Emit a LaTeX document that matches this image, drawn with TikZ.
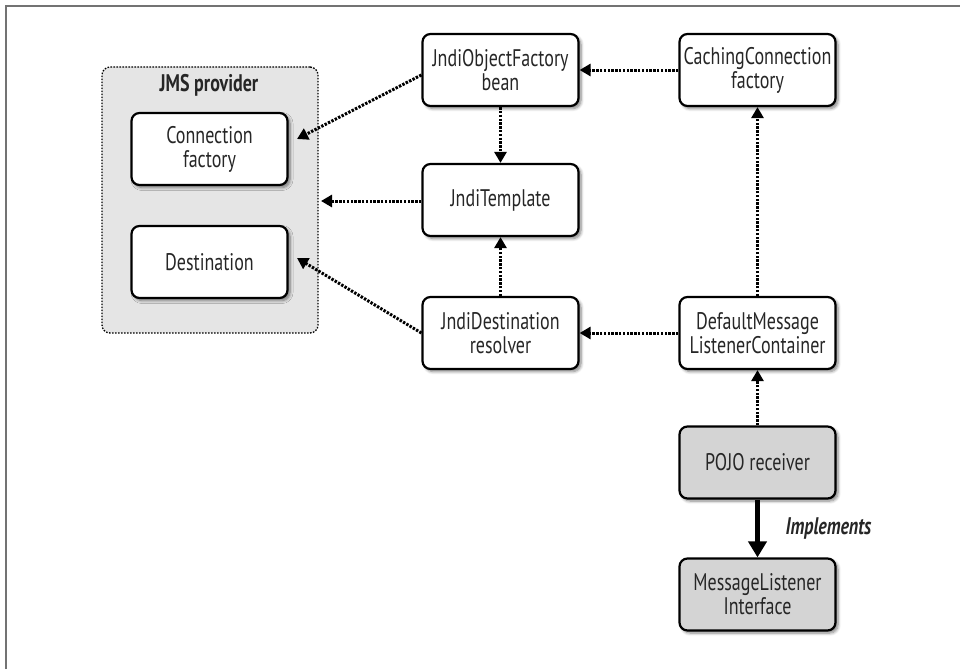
\documentclass[tikz,border=0pt]{standalone}
\usepackage{fontspec}
\setmainfont{PT Sans}[FakeStretch=0.75]
\usetikzlibrary{arrows.meta,shadows.blur,calc}
\begin{document}
\begin{tikzpicture}[x=1pt,y=-1pt,
  box/.style={draw=black, line width=2.2pt, rounded corners=8pt, fill=white,
    minimum width=156pt, minimum height=72pt, align=center, inner sep=0pt,
    font=\fontsize{24}{24}\selectfont, text=black!85,
    blur shadow={shadow xshift=2.5pt, shadow yshift=-2.5pt, shadow blur radius=3pt, shadow blur steps=6, shadow opacity=50}},
  graybox/.style={box, fill=black!17},
  dep/.style={line width=3pt, dash pattern=on 2.4pt off 1.4pt, -{Triangle[length=11pt,width=12pt]}},
  impl/.style={line width=5.5pt, -{Triangle[length=16pt,width=18pt]}},
  frameline/.style={draw=black!55, line width=1.6pt}
]
\useasboundingbox (0,0) rectangle (960,669);
% outer frame edges
\draw[frameline] (6,669) -- (6,6) -- (960,6);

% JMS provider group
\node[draw=black, line width=1.3pt, dash pattern=on 1.6pt off 1.4pt, rounded corners=8pt,
  fill=black!10, minimum width=216pt, minimum height=266pt, inner sep=0pt] (prov) at (210,200) {};
\node[font=\fontsize{24}{24}\selectfont\bfseries, text=black!85] (provlabel) at (209,85) {JMS provider};

% components
\node[box] (cf) at (209.5,149) {Connection\\factory};
\node[box] (dest) at (209.5,262) {Destination};
\node[box] (jofb) at (500.5,70) {JndiObjectFactory\\bean};
\node[box] (ccf) at (757.5,70) {CachingConnection\\factory};
\node[box] (jt) at (500.5,200) {JndiTemplate};
\node[box] (jdr) at (500.5,333) {JndiDestination\\resolver};
\node[box] (dmlc) at (757.5,333) {DefaultMessage\\ListenerContainer};
\node[graybox] (pojo) at (757.5,462.5) {POJO receiver};
\node[graybox] (mli) at (757.5,594.5) {MessageListener\\Interface};

% free ends inside the provider group
\coordinate (cfin) at (297,139);
\coordinate (provin) at (321,201);
\coordinate (destin) at (297,258);

% dependencies
\draw[dep] ($(jofb.west)+(0,5)$) -- (cfin);
\draw[dep] ($(jt.west)+(0,1)$) -- (provin);
\draw[dep] (jdr.west) -- (destin);
\draw[dep] (ccf.west) -- (jofb.east);
\draw[dep] (jofb.south) -- (jt.north);
\draw[dep] (jdr.north) -- (jt.south);
\draw[dep] (dmlc.west) -- (jdr.east);
\draw[dep] (dmlc.north) -- (ccf.south);
\draw[dep] (pojo.north) -- (dmlc.south);
\draw[impl] (pojo.south) -- (mli.north) node[midway, right=22pt, font=\fontsize{24}{24}\selectfont\bfseries\itshape, text=black!85] (impllabel) {Implements};
\end{tikzpicture}
\end{document}
